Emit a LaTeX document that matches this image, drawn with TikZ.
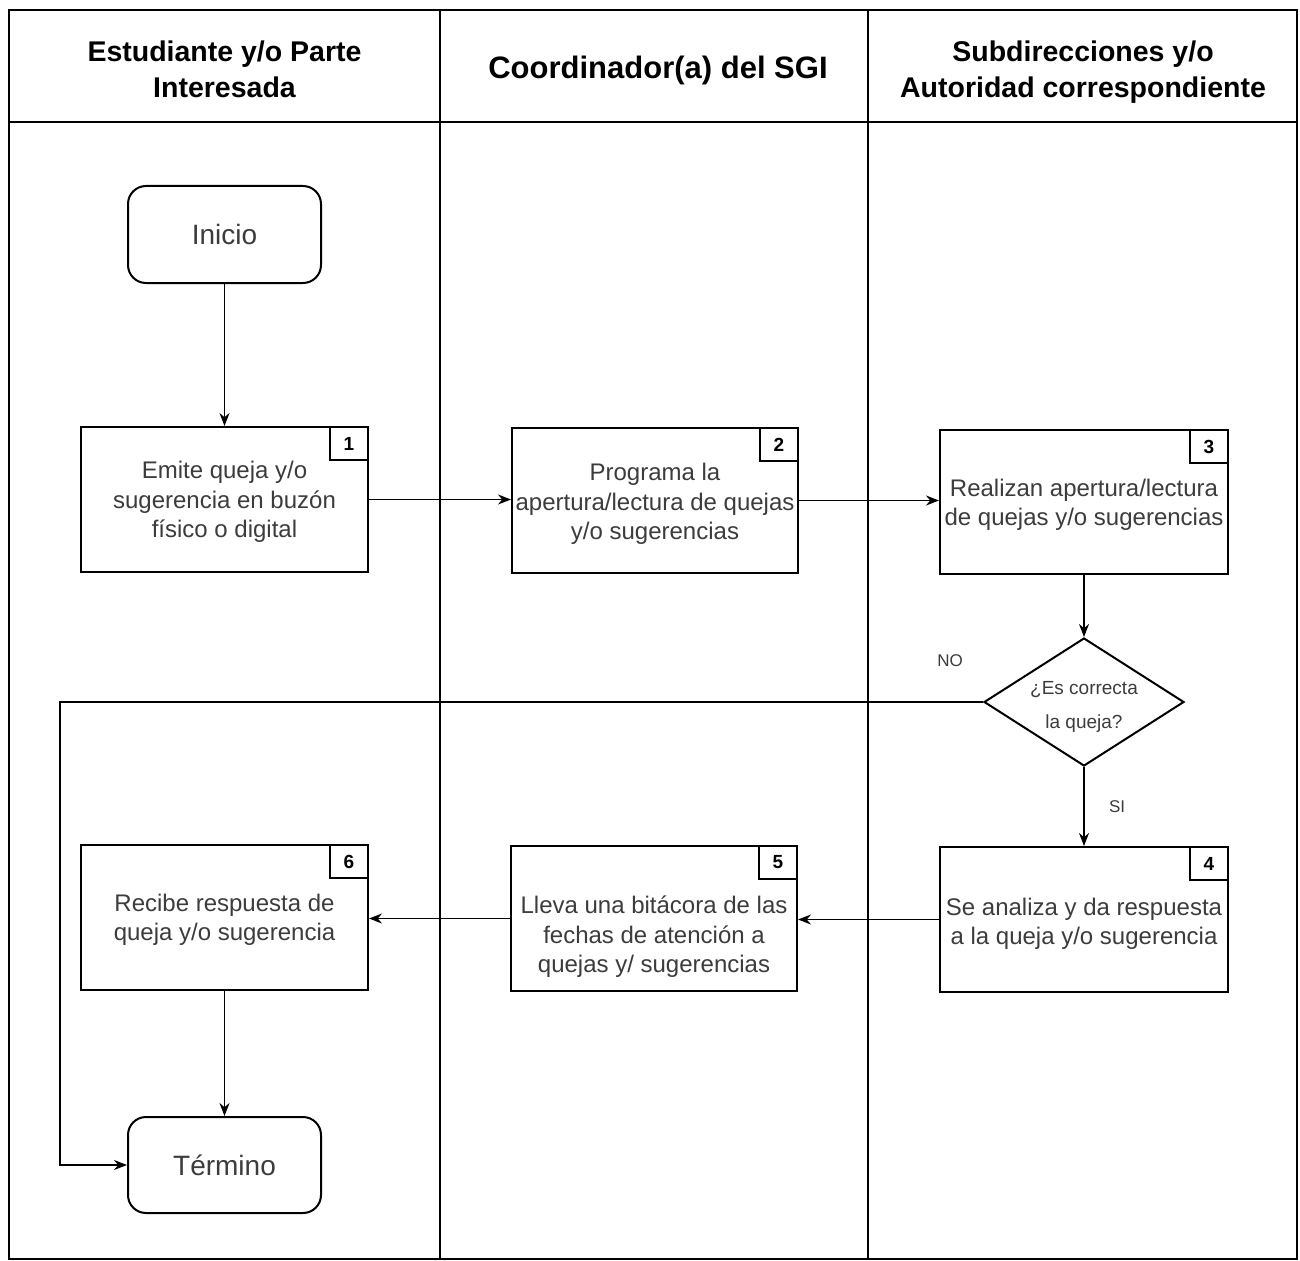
\documentclass[tikz,border=0pt]{standalone}
\usepackage{fontspec}
\setmainfont{Liberation Sans}
\usetikzlibrary{shapes.geometric,arrows.meta}
\definecolor{txtgray}{RGB}{60,60,60}
\begin{document}
\begin{tikzpicture}[x=1pt,y=-1pt,
  frame/.style={draw=black,line width=2.2pt},
  hdr/.style={font=\fontsize{28.5}{36}\selectfont\bfseries,align=center,text=black},
  proc/.style={draw=black,line width=2pt,minimum width=287pt,minimum height=145pt,inner sep=0pt,align=center,text=txtgray,font=\fontsize{24}{29.5}\selectfont},
  term/.style={draw=black,line width=2pt,rounded corners=18pt,minimum width=193pt,minimum height=97pt,inner sep=0pt,text=txtgray,font=\fontsize{28}{32}\selectfont},
  numbox/.style={draw=black,line width=2pt,minimum width=38pt,minimum height=33pt,inner sep=0pt,anchor=north east,font=\fontsize{19}{22}\selectfont\bfseries},
  dec/.style={draw=black,line width=2pt,diamond,minimum width=200pt,minimum height=128pt,inner sep=0pt},
  dectxt/.style={align=center,text=txtgray,font=\fontsize{19}{34}\selectfont},
  btxt/.style={align=center,text=txtgray,font=\fontsize{24}{29.5}\selectfont},
  lbl/.style={text=txtgray,font=\fontsize{17}{20}\selectfont},
  arr/.style={draw=black,line width=1.4pt,-{Stealth[length=13pt,width=10pt]}}
]
\useasboundingbox (0,0) rectangle (1300,1260);
\fill[white] (0,0) rectangle (1300,1260);
% lanes
\draw[frame] (9,10) rectangle (1297,1259);
\draw[frame] (440,10) -- (440,1259);
\draw[frame] (868,10) -- (868,1259);
\draw[frame] (9,122) -- (1297,122);
\node[hdr] (h1) at (224.5,69) {Estudiante y/o Parte\\Interesada};
\node[hdr,font=\fontsize{31}{36}\selectfont\bfseries] (h2) at (658,70) {Coordinador(a) del SGI};
\node[hdr] (h3) at (1083,72) {Subdirecciones y/o\\Autoridad correspondiente};
% nodes
\node[term] (ini) at (224.5,234.5) {Inicio};
\node[proc] (b1) at (224.5,499.5) {};
\node[btxt] (t1) at (224.5,502) {Emite queja y/o\\sugerencia en buzón\\físico o digital};
\node[numbox] (n1) at (b1.north east) {1};
\node[proc,minimum width=286pt] (b2) at (655,500.5) {};
\node[btxt] (t2) at (655,504) {Programa la\\apertura/lectura de quejas\\y/o sugerencias};
\node[numbox] (n2) at (b2.north east) {2};
\node[proc,minimum width=288pt,minimum height=144pt] (b3) at (1084,502) {};
\node[btxt] (t3) at (1084,505) {Realizan apertura/lectura\\de quejas y/o sugerencias};
\node[numbox] (n3) at (b3.north east) {3};
\node[dec] (d) at (1084,702) {};
\node[dectxt] (dt) at (1084,707) {¿Es correcta\\la queja?};
\node[proc,minimum width=288pt] (b4) at (1084,919.5) {};
\node[btxt] (t4) at (1084,924) {Se analiza y da respuesta\\a la queja y/o sugerencia};
\node[numbox] (n4) at (b4.north east) {4};
\node[proc,minimum width=286pt] (b5) at (654,918.5) {};
\node[btxt] (t5) at (654,937) {Lleva una bitácora de las\\fechas de atención a\\quejas y/ sugerencias};
\node[numbox] (n5) at (b5.north east) {5};
\node[proc] (b6) at (224.5,917.5) {};
\node[btxt] (t6) at (224.5,920) {Recibe respuesta de\\queja y/o sugerencia};
\node[numbox] (n6) at (b6.north east) {6};
\node[term,minimum height=96pt] (fin) at (224.5,1165) {Término};
\coordinate (c1) at (60,702);
% connectors
\draw[arr] (ini) -- (b1);
\draw[arr] (b1.east) -- (b1.east -| b2.west);
\draw[arr] (b2.east) -- (b2.east -| b3.west);
\draw[arr] (b3) -- (d);
\draw[arr] (d) -- node[lbl,right,xshift=21pt,pos=0.5] (si) {SI} (b4);
\draw[arr] (d.west) -- (c1) |- (fin.west);
\node[lbl] (no) at (950,661) {NO};
\draw[arr] (b4.west) -- (b4.west -| b5.east);
\draw[arr] (b5.west) -- (b5.west -| b6.east);
\draw[arr] (b6) -- (fin);
\end{tikzpicture}
\end{document}
